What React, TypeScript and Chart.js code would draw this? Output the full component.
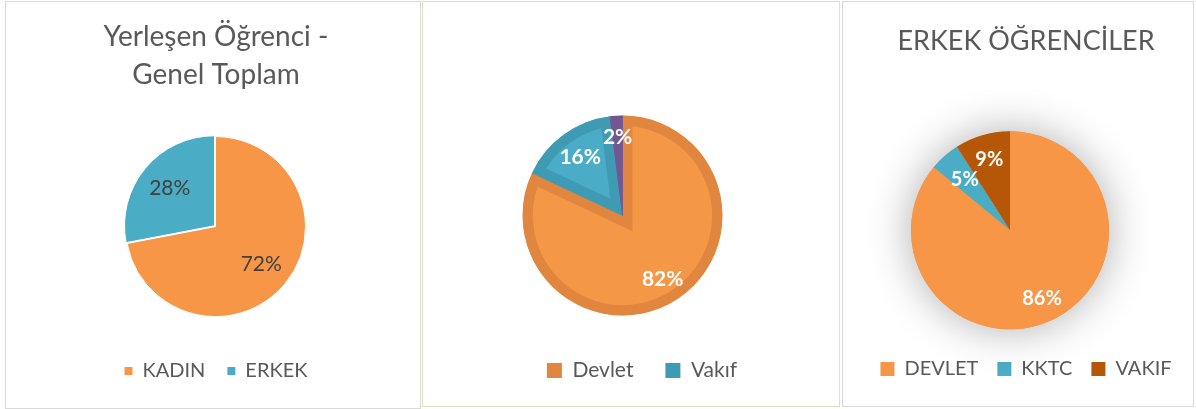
import React, { useEffect, useRef } from "react";
import { Chart, registerables, layouts } from "chart.js";

Chart.register(...registerables);

const FONT = "Lato, 'Open Sans', sans-serif";
const TEXT_GREY = "#595959";

// ---- Panel 1: Yerleşen Öğrenci - Genel Toplam
const p1Title = ["Yerleşen Öğrenci -", "Genel Toplam"];
const p1Labels = ["KADIN", "ERKEK"];
const p1Values = [72, 28];
const p1Colors = ["#F79646", "#4BACC6"];

// ---- Panel 2: Devlet / Vakıf
const p2Labels = ["Devlet", "Vakıf", "Diğer"];
const p2Values = [82, 16, 2];
const p2Fill = ["#F49746", "#4AACC6", "#7B5E98"];
const p2Border = ["#E0863E", "#3F9AB4", "#725790"];

// ---- Panel 3: ERKEK ÖĞRENCİLER
const p3Title = "ERKEK ÖĞRENCİLER";
const p3Labels = ["DEVLET", "KKTC", "VAKIF"];
const p3Values = [86, 5, 9];
const p3Colors = ["#F79646", "#4BACC6", "#B65708"];

function makeSpacer(side: string, size: number) {
  return {
    id: "spacer",
    beforeInit(chart: any) {
      const box: any = {
        position: side,
        weight: 0,
        fullSize: false,
        options: {},
        left: 0,
        top: 0,
        right: 0,
        bottom: 0,
        width: 0,
        height: 0,
        update(maxWidth: number, maxHeight: number) {
          this.width = size;
          this.height = maxHeight;
          return { width: size, height: maxHeight };
        },
        isHorizontal() {
          return false;
        },
        draw() {},
      };
      layouts.addBox(chart, box);
    },
  };
}

function makeSliceLabels(cfg: { ratios: number[]; color: string; size: number; weight: string }) {
  return {
    id: "sliceLabels",
    afterDatasetsDraw(chart: any) {
      const ctx = chart.ctx;
      const meta = chart.getDatasetMeta(0);
      const data = chart.data.datasets[0].data;
      meta.data.forEach((arc: any, i: number) => {
        const p = arc.getProps(["startAngle", "endAngle", "outerRadius", "x", "y"], true);
        const mid = (p.startAngle + p.endAngle) / 2;
        const r = p.outerRadius * cfg.ratios[i];
        ctx.save();
        ctx.font = `${cfg.weight} ${cfg.size}px ${FONT}`;
        ctx.fillStyle = cfg.color;
        ctx.textAlign = "center";
        ctx.textBaseline = "middle";
        ctx.fillText(`${data[i]}%`, p.x + Math.cos(mid) * r, p.y + Math.sin(mid) * r);
        ctx.restore();
      });
    },
  };
}

const shadowPlugin = {
  id: "pieShadow",
  beforeDatasetsDraw(chart: any) {
    const meta = chart.getDatasetMeta(0);
    const a = meta.data[0];
    if (!a) return;
    const p = a.getProps(["x", "y", "outerRadius"], true);
    const ctx = chart.ctx;
    ctx.save();
    ctx.shadowColor = "rgba(0,0,0,0.32)";
    ctx.shadowBlur = 44;
    ctx.fillStyle = "#F79646";
    ctx.beginPath();
    ctx.arc(p.x, p.y, p.outerRadius, 0, Math.PI * 2);
    ctx.fill();
    ctx.restore();
  },
};

function legendGen(colors: string[], count: number) {
  return (chart: any) =>
    chart.data.labels.slice(0, count).map((t: string, i: number) => ({
      text: t,
      fillStyle: colors[i],
      strokeStyle: colors[i],
      lineWidth: 0,
      hidden: false,
      index: i,
      fontColor: TEXT_GREY,
    }));
}

function config1(): any {
  return {
    type: "pie",
    data: {
      labels: p1Labels,
      datasets: [
        {
          data: p1Values,
          backgroundColor: p1Colors,
          borderColor: "#ffffff",
          borderWidth: 1,
          offset: [0, 5],
          radius: 90,
        },
      ],
    },
    options: {
      responsive: false,
      animation: false,
      events: [],
      layout: { padding: { top: 0, bottom: 17, left: 6, right: 0 } },
      plugins: {
        title: {
          display: true,
          text: p1Title,
          color: TEXT_GREY,
          font: { family: FONT, size: 28, weight: "normal", lineHeight: 1.36 },
          padding: { top: 16, bottom: 20 },
        },
        legend: {
          position: "bottom",
          labels: {
            boxWidth: 8,
            boxHeight: 8,
            padding: 22,
            color: TEXT_GREY,
            font: { family: FONT, size: 20 },
            generateLabels: legendGen(p1Colors, 2),
          },
        },
        tooltip: { enabled: false },
      },
    },
    plugins: [
      makeSpacer("right", 1),
      makeSliceLabels({ ratios: [0.66, 0.66], color: "#404040", size: 21, weight: "normal" }),
    ],
  };
}

function config2(): any {
  return {
    type: "pie",
    data: {
      labels: p2Labels,
      datasets: [
        {
          data: p2Values,
          backgroundColor: p2Fill,
          borderColor: p2Border,
          borderWidth: 10,
          borderAlign: "inner",
          borderJoinStyle: "miter",
          radius: 100,
        },
      ],
    },
    options: {
      responsive: false,
      animation: false,
      events: [],
      layout: { padding: { top: 101, bottom: 15, left: 22, right: 0 } },
      plugins: {
        title: { display: false },
        legend: {
          position: "bottom",
          labels: {
            boxWidth: 15,
            boxHeight: 15,
            padding: 32,
            color: TEXT_GREY,
            font: { family: FONT, size: 21 },
            generateLabels: legendGen(p2Border, 2),
          },
        },
        tooltip: { enabled: false },
      },
    },
    plugins: [
      makeSpacer("right", 39),
      makeSliceLabels({ ratios: [0.75, 0.72, 0.78], color: "#ffffff", size: 21, weight: "bold" }),
    ],
  };
}

function config3(): any {
  return {
    type: "pie",
    data: {
      labels: p3Labels,
      datasets: [
        {
          data: p3Values,
          backgroundColor: p3Colors,
          borderWidth: 0,
          radius: 99,
        },
      ],
    },
    options: {
      responsive: false,
      animation: false,
      events: [],
      layout: { padding: { top: 0, bottom: 17, left: 16, right: 0 } },
      plugins: {
        title: {
          display: true,
          text: p3Title,
          color: TEXT_GREY,
          font: { family: FONT, size: 27, weight: "normal", lineHeight: 1.36 },
          padding: { top: 21, bottom: 61 },
        },
        legend: {
          position: "bottom",
          labels: {
            boxWidth: 14,
            boxHeight: 14,
            padding: 19,
            color: TEXT_GREY,
            font: { family: FONT, size: 20 },
            generateLabels: legendGen(p3Colors, 3),
          },
        },
        tooltip: { enabled: false },
      },
    },
    plugins: [
      makeSpacer("right", 32),
      shadowPlugin,
      makeSliceLabels({ ratios: [0.76, 0.69, 0.75], color: "#ffffff", size: 20, weight: "bold" }),
    ],
  };
}

function PieCard(props: {
  left: number;
  top: number;
  width: number;
  height: number;
  border: string;
  makeConfig: () => any;
}) {
  const ref = useRef<HTMLCanvasElement | null>(null);
  useEffect(() => {
    if (!ref.current) return;
    const chart = new Chart(ref.current, props.makeConfig());
    return () => chart.destroy();
  }, []);
  const cw = props.width - 2;
  const ch = props.height - 2;
  return (
    <div
      style={{
        position: "absolute",
        left: props.left,
        top: props.top,
        width: props.width,
        height: props.height,
        boxSizing: "border-box",
        border: `1px solid ${props.border}`,
        background: "#ffffff",
      }}
    >
      <canvas ref={ref} width={cw} height={ch} style={{ display: "block", width: cw, height: ch }} />
    </div>
  );
}

export default function App() {
  return (
    <div
      style={{
        position: "absolute",
        left: 0,
        top: 0,
        width: 1196,
        height: 409,
        background: "#ffffff",
        overflow: "hidden",
      }}
    >
      <PieCard left={5} top={1} width={416} height={408} border="#D9D9D9" makeConfig={config1} />
      <PieCard left={422} top={1} width={418} height={406} border="#D7E4BD" makeConfig={config2} />
      <PieCard left={842} top={1} width={352} height={406} border="#D9D9D9" makeConfig={config3} />
    </div>
  );
}
